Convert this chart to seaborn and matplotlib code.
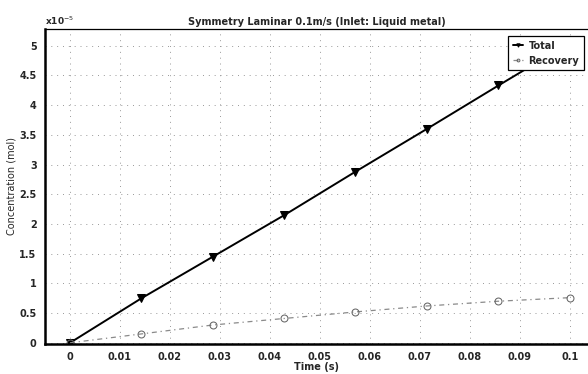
import matplotlib
matplotlib.use("Agg")
import matplotlib.pyplot as plt
import seaborn as sns
import pandas as pd
import numpy as np

# Data (concentration in units of 1e-5 mol)
time_s = [0.0, 0.0143, 0.0286, 0.0429, 0.0571, 0.0714, 0.0857, 0.1]
total = [0.0, 0.75, 1.45, 2.15, 2.88, 3.60, 4.33, 5.05]
recovery = [0.0, 0.15, 0.30, 0.41, 0.52, 0.62, 0.70, 0.76]
x_ticks = [0, 0.01, 0.02, 0.03, 0.04, 0.05, 0.06, 0.07, 0.08, 0.09, 0.1]
x_tick_labels = ["0", "0.01", "0.02", "0.03", "0.04", "0.05", "0.06", "0.07", "0.08", "0.09", "0.1"]
y_ticks = [0, 0.5, 1, 1.5, 2, 2.5, 3, 3.5, 4, 4.5, 5]
y_tick_labels = ["0", "0.5", "1", "1.5", "2", "2.5", "3", "3.5", "4", "4.5", "5"]
scale = 1e-5

df = pd.DataFrame({
    "Time (s)": time_s * 2,
    "Concentration": [v * scale for v in total] + [v * scale for v in recovery],
    "Series": ["Total"] * len(time_s) + ["Recovery"] * len(time_s),
})

sns.set_style("white")
plt.rcParams["font.family"] = ["DejaVu Sans"]

fig = plt.figure(figsize=(5.88, 3.74), dpi=100)
ax = fig.add_axes([0.0765, 0.0802, 0.9235, 0.8423])

sns.lineplot(data=df[df.Series == "Total"], x="Time (s)", y="Concentration",
             color="black", lw=1.4, marker="v", markersize=6,
             markerfacecolor="black", markeredgecolor="black",
             label="Total", ax=ax)
sns.lineplot(data=df[df.Series == "Recovery"], x="Time (s)", y="Concentration",
             color="#8a8a8a", lw=0.9, linestyle=(0, (4, 3, 1, 3)), marker="o",
             markersize=5, markerfacecolor="none", markeredgecolor="#666666",
             label="Recovery", ax=ax)

ax.set_xlim(-0.005, 0.1036)
ax.set_ylim(-0.02 * scale, 5.28 * scale)
ax.set_xticks(x_ticks)
ax.set_xticklabels(x_tick_labels, fontsize=7, fontweight="bold")
ax.set_yticks([v * scale for v in y_ticks])
ax.set_yticklabels(y_tick_labels, fontsize=7, fontweight="bold")
ax.text(0.0, 1.005, r"x10$^{-5}$", transform=ax.transAxes, fontsize=6.5,
        fontweight="bold", ha="left", va="bottom")

ax.grid(True, linestyle=(0, (1, 5)), color="#999999", lw=0.7)
ax.tick_params(direction="in", length=3, width=0.8, pad=6)

for side in ["left", "bottom"]:
    ax.spines[side].set_linewidth(1.8)
    ax.spines[side].set_color("black")
ax.spines["top"].set_linewidth(0.9)
ax.spines["top"].set_color("black")
ax.spines["right"].set_visible(False)

ax.set_title("Symmetry Laminar 0.1m/s (Inlet: Liquid metal)", fontsize=7,
             fontweight="bold", pad=3)
ax.set_xlabel("Time (s)", fontsize=7, fontweight="bold", labelpad=0)
ax.set_ylabel("Concentration (mol)", fontsize=7, labelpad=2)

leg = ax.legend(loc="upper right", bbox_to_anchor=(0.993, 0.978), borderaxespad=0,
                fontsize=7, frameon=True, fancybox=False, framealpha=1,
                edgecolor="black", handlelength=1.0, handletextpad=0.6,
                borderpad=0.5, labelspacing=0.5, markerscale=0.4)
leg.get_frame().set_linewidth(0.9)
leg.set_zorder(10)
for t in leg.get_texts():
    t.set_fontweight("bold")

fig.savefig("out.png", dpi=100)
